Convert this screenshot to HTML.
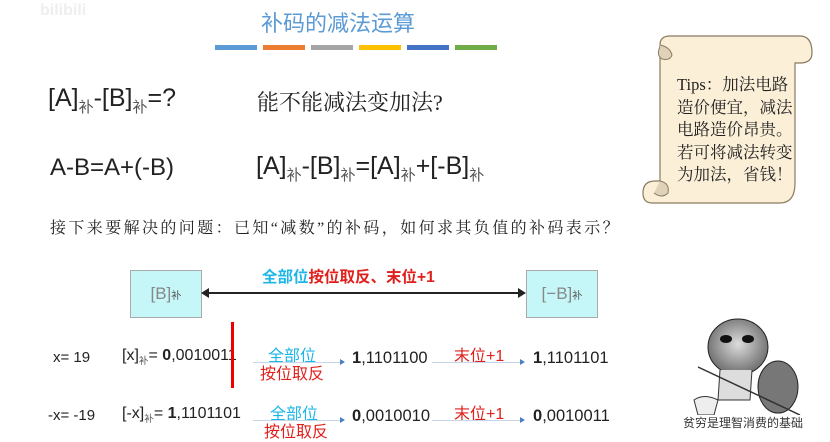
<!DOCTYPE html>
<html><head><meta charset="utf-8"><style>
body{margin:0;width:830px;height:438px;background:#fff;position:relative;overflow:hidden;font-family:"Liberation Sans","Noto Sans CJK SC",sans-serif;color:#222}
.a{position:absolute;white-space:nowrap}
sub{font-size:0.6em;vertical-align:-0.4em;color:#555}
.s{font-family:"Liberation Serif","Noto Serif CJK SC",serif}
.cy{color:#1cb6e8}.rd{color:#e0201c}
.bar{position:absolute;top:45px;width:42px;height:5px}
.box{position:absolute;top:270px;width:70px;height:46px;background:#c5f6f8;border:1px solid #aaa;color:#888;font-size:17px;display:flex;align-items:center;justify-content:center}
.ln{position:absolute;height:1px;background:#c5d6ea}
.ar{position:absolute;width:0;height:0;border-left:5px solid #4a7fc0;border-top:3px solid transparent;border-bottom:3px solid transparent}
</style></head><body>
<div class="a" style="left:40px;top:2px;font-size:16px;color:#eee;font-weight:bold">bilibili</div>
<div class="a" style="left:261px;top:6px;font-size:22px;color:#5b9bd5">补码的减法运算</div>
<div class="bar" style="left:215px;background:#5b9bd5"></div>
<div class="bar" style="left:263px;background:#ed7d31"></div>
<div class="bar" style="left:311px;background:#a5a5a5"></div>
<div class="bar" style="left:359px;background:#ffc000"></div>
<div class="bar" style="left:407px;background:#4472c4"></div>
<div class="bar" style="left:455px;background:#70ad47"></div>

<div class="a" style="left:48px;top:84px;font-size:25px">[A]<sub>补</sub>-[B]<sub>补</sub>=?</div>
<div class="a s" style="left:257px;top:86px;font-size:22px">能不能减法变加法?</div>
<div class="a" style="left:50px;top:154px;font-size:24px">A-B=A+(-B)</div>
<div class="a" style="left:256px;top:152px;font-size:25px">[A]<sub>补</sub>-[B]<sub>补</sub>=[A]<sub>补</sub>+[-B]<sub>补</sub></div>
<div class="a s" style="left:50px;top:215px;font-size:16px;letter-spacing:2.4px">接下来要解决的问题：已知“减数”的补码，如何求其负值的补码表示？</div>

<svg class="a" style="left:640px;top:33px" width="175" height="175" viewBox="0 0 175 175">
<path d="M20 12 Q20 3 30 3 L160 3 Q172 3 172 20 Q172 30 160 30 L155 30 L155 150 Q155 170 140 170 L12 170 Q3 170 3 160 Q3 148 15 148 L20 148 Z" fill="#fbefd8" stroke="#8a7a60" stroke-width="1.2"/>
<path d="M20 12 Q30 14 32 22 Q30 28 22 26 Q16 22 20 14" fill="#e0d2b8" stroke="#8a7a60"/>
<path d="M20 148 Q30 150 28 160 Q22 166 14 160" fill="#e0d2b8" stroke="#8a7a60"/>
</svg>
<div class="a s" style="left:677px;top:74px;font-size:16.5px;line-height:22.5px">Tips：加法电路<br>造价便宜，减法<br>电路造价昂贵。<br>若可将减法转变<br>为加法，省钱！</div>

<div class="box" style="left:130px">[B]<sub>补</sub></div>
<div class="box" style="left:526px">[−B]<sub>补</sub></div>
<div class="a" style="left:205px;top:292px;width:316px;height:1.5px;background:#222"></div>
<div class="a" style="left:201px;top:288px;border-right:8px solid #222;border-top:5px solid transparent;border-bottom:5px solid transparent"></div>
<div class="a" style="left:518px;top:288px;border-left:8px solid #222;border-top:5px solid transparent;border-bottom:5px solid transparent"></div>
<div class="a" style="left:262px;top:265px;font-size:15.5px;font-weight:bold"><span class="cy">全部位</span><span class="rd">按位取反、末位+1</span></div>

<div class="a" style="left:53px;top:349px;font-size:15px">x= 19</div>
<div class="a" style="left:122px;top:347px;font-size:16px">[x]<sub>补</sub>= <b>0</b>,0010011</div>
<div class="a" style="left:231px;top:322px;width:3px;height:66px;background:#e00"></div>
<div class="a" style="left:48px;top:407px;font-size:15px">-x= -19</div>
<div class="a" style="left:122px;top:405px;font-size:16px">[-x]<sub>补</sub>= <b>1</b>,1101101</div>

<div class="a cy" style="left:268px;top:342px;font-size:16px">全部位</div>
<div class="a rd" style="left:260px;top:360px;font-size:16px">按位取反</div>
<div class="ln" style="left:253px;top:362px;width:88px"></div><div class="ar" style="left:340px;top:359px"></div>
<div class="a" style="left:352px;top:349px;font-size:16.5px"><b>1</b>,1101100</div>
<div class="a rd" style="left:454px;top:342px;font-size:16px">末位+1</div>
<div class="ln" style="left:432px;top:362px;width:88px"></div><div class="ar" style="left:520px;top:359px"></div>
<div class="a" style="left:533px;top:349px;font-size:16.5px"><b>1</b>,1101101</div>

<div class="a cy" style="left:270px;top:400px;font-size:16px">全部位</div>
<div class="a rd" style="left:264px;top:418px;font-size:16px">按位取反</div>
<div class="ln" style="left:253px;top:420px;width:88px"></div><div class="ar" style="left:340px;top:417px"></div>
<div class="a" style="left:352px;top:407px;font-size:16.5px"><b>0</b>,0010010</div>
<div class="a rd" style="left:454px;top:400px;font-size:16px">末位+1</div>
<div class="ln" style="left:432px;top:420px;width:88px"></div><div class="ar" style="left:520px;top:417px"></div>
<div class="a" style="left:533px;top:407px;font-size:16.5px"><b>0</b>,0010011</div>

<svg class="a" style="left:690px;top:315px" width="120" height="100">
<defs><radialGradient id="g" cx="50%" cy="45%"><stop offset="0" stop-color="#ddd"/><stop offset="1" stop-color="#777"/></radialGradient></defs>
<ellipse cx="48" cy="32" rx="30" ry="28" fill="url(#g)" stroke="#222"/>
<ellipse cx="36" cy="24" rx="6" ry="4" fill="#111"/><ellipse cx="58" cy="24" rx="6" ry="4" fill="#111"/>
<path d="M30 55 L28 85 L60 85 L62 55" fill="#ddd" stroke="#333"/>
<ellipse cx="88" cy="72" rx="20" ry="26" fill="#777" stroke="#222"/>
<line x1="8" y1="52" x2="110" y2="100" stroke="#333" stroke-width="1.5"/>
<path d="M4 85 Q14 78 28 85 L24 100 L8 100Z" fill="#eee" stroke="#333"/>
</svg>
<div class="a" style="left:683px;top:414px;font-size:12px;color:#333">贫穷是理智消费的基础</div>
</body></html>
